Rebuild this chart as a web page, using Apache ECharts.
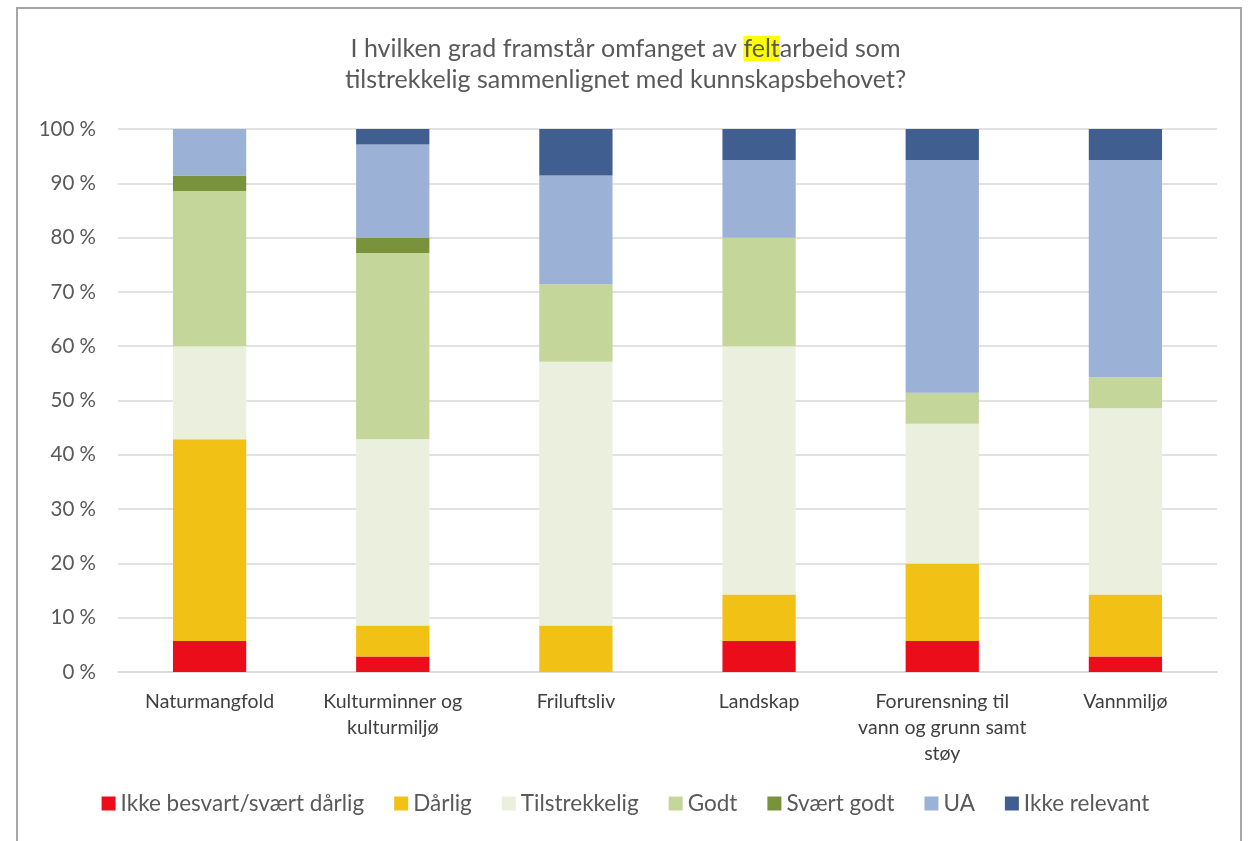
<!DOCTYPE html>
<html>
<head>
<meta charset="utf-8">
<script src="https://cdn.jsdelivr.net/npm/echarts@6/dist/echarts.min.js"></script>
<style>
	html, body { margin: 0; padding: 0; background: #fff; overflow: hidden; }
	#frame {
		position: absolute; left: 16px; top: 7px; width: 1226px; height: 850px;
		border: 2px solid #a6a6a6; box-sizing: border-box;
	}
	#main { position: absolute; left: 0; top: 0; width: 1251px; height: 841px; }
</style>
</head>
<body>
<div id="frame"></div>
<div id="main"></div>
<script>
// kategorier
var categories = ['Naturmangfold', 'Kulturminner og\nkulturmiljø', 'Friluftsliv', 'Landskap',
	'Forurensning til\nvann og grunn samt\nstøy', 'Vannmiljø'];

// andeler i prosent
var ikkeBesvart  = [5.71, 2.86, 0, 5.71, 5.71, 2.86];
var darlig       = [37.14, 5.71, 8.57, 8.57, 14.29, 11.43];
var tilstrekkelig = [17.14, 34.29, 48.57, 45.71, 25.71, 34.29];
var godt         = [28.57, 34.29, 14.29, 20.00, 5.71, 5.71];
var svaertGodt   = [2.86, 2.86, 0, 0, 0, 0];
var ua           = [8.57, 17.14, 20.00, 14.29, 42.86, 40.00];
var ikkeRelevant = [0, 2.86, 8.57, 5.71, 5.71, 5.71];

var seriesNames = ['Ikke besvart/svært dårlig', 'Dårlig', 'Tilstrekkelig', 'Godt', 'Svært godt', 'UA', 'Ikke relevant'];
var seriesData = [ikkeBesvart, darlig, tilstrekkelig, godt, svaertGodt, ua, ikkeRelevant];
var colors = ['#EC0D1B', '#F2C115', '#EBF0DE', '#C4D699', '#79923C', '#9CB1D6', '#405E8F'];

var font = 'Lato, "Noto Sans", sans-serif';

var chart = echarts.init(document.getElementById('main'));

var series = seriesNames.map(function(name, i) {
	return {
		name: name,
		type: 'bar',
		stack: 'total',
		barWidth: '40%',
		itemStyle: { color: colors[i] },
		emphasis: { disabled: true },
		data: seriesData[i]
	};
});

chart.setOption({
	animation: false,
	color: colors,
	title: {
		left: 'center',
		top: 28,
		text: '{a|I hvilken grad framstår omfanget av }{h|felt}{a|arbeid som}\n{a|tilstrekkelig sammenlignet med kunnskapsbehovet?}',
		textStyle: {
			fontWeight: 'normal',
			rich: {
				a: { fontFamily: font, fontSize: 25, fontWeight: 'normal', color: '#595959', lineHeight: 31 },
				h: { fontFamily: font, fontSize: 25, fontWeight: 'normal', color: '#595959', lineHeight: 31, backgroundColor: '#FFFF00' }
			}
		}
	},
	grid: {
		left: 118,
		right: 34,
		top: 129,
		bottom: 169
	},
	xAxis: {
		type: 'category',
		data: categories,
		axisLine: { lineStyle: { color: '#d9d9d9', width: 1.5 } },
		axisTick: { show: false },
		axisLabel: {
			interval: 0,
			margin: 17,
			fontFamily: font,
			fontSize: 19.5,
			lineHeight: 26,
			color: '#404040'
		}
	},
	yAxis: {
		type: 'value',
		min: 0,
		max: 100,
		interval: 10,
		axisLine: { show: false },
		axisTick: { show: false },
		splitLine: { lineStyle: { color: '#d9d9d9', width: 1.5 } },
		axisLabel: {
			formatter: '{value} %',
			margin: 22,
			fontFamily: font,
			fontSize: 20.5,
			color: '#595959'
		}
	},
	legend: {
		bottom: 21,
		left: 'center',
		icon: 'rect',
		itemWidth: 14,
		itemHeight: 14,
		itemGap: 30,
		textStyle: { fontFamily: font, fontSize: 22.5, color: '#595959' },
		data: seriesNames
	},
	series: series
});
</script>
</body>
</html>
